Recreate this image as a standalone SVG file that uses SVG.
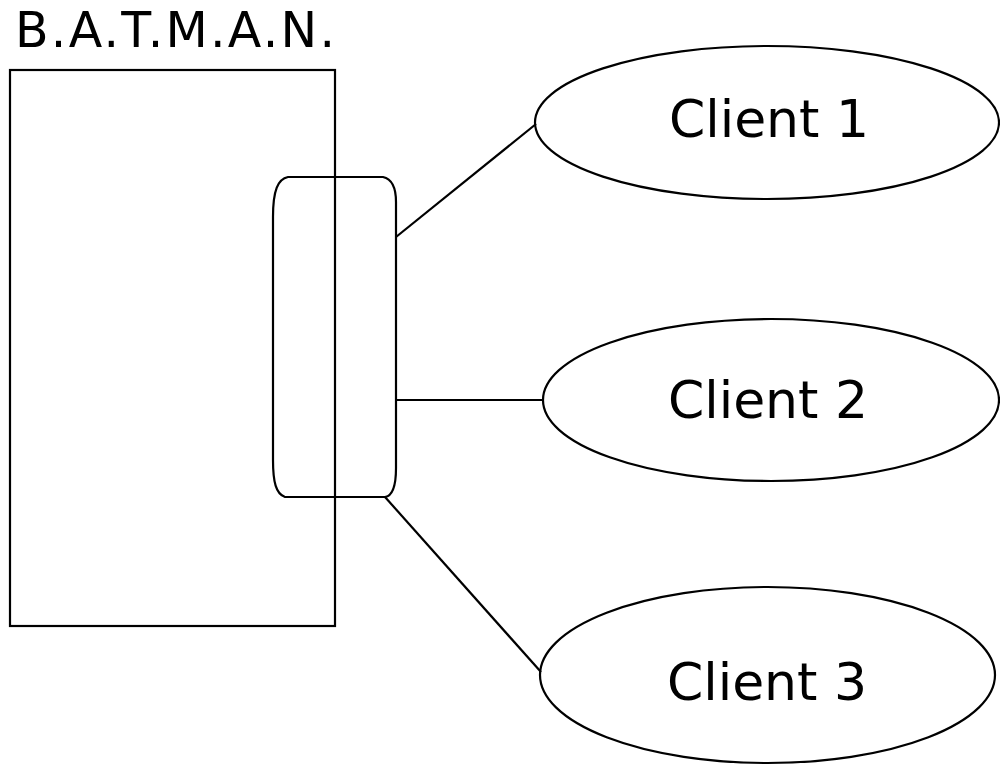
<svg xmlns="http://www.w3.org/2000/svg" width="1000" height="765" viewBox="0 0 1000 765">
  <style>
    .shape { fill: none; stroke: #000; stroke-width: 2.2; }
    .wire { fill: none; stroke: #000; stroke-width: 2.2; }
    .label { font-family: "DejaVu Sans", "Liberation Sans", sans-serif; fill: #000; text-anchor: middle; }
  </style>
  <rect width="1000" height="765" fill="#fff"/>

  <!-- mesh node -->
  <g id="batman">
    <text class="label" x="15" y="47" font-size="49" style="text-anchor:start" textLength="320" lengthAdjust="spacing">B.A.T.M.A.N.</text>
    <rect class="shape" x="10" y="70" width="325" height="556"/>
  </g>

  <!-- interface bundle -->
  <g id="interface">
    <path class="shape" d="M288,177 L383,177 C392,179 396,188 396,202 L396,468 C396,488 392,496 385,497 L285,497 C276,494 273,482 273,460 L273,217 C273,190 278,179 288,177 Z"/>
  </g>

  <g id="connectors">
    <line class="wire" x1="396" y1="237" x2="536" y2="124"/>
    <line class="wire" x1="396" y1="400" x2="543" y2="400"/>
    <line class="wire" x1="385" y1="497" x2="541" y2="672"/>
  </g>

  <g id="client1">
    <ellipse class="shape" cx="767" cy="122.5" rx="232" ry="76.5"/>
    <text class="label" x="769" y="137" font-size="52">Client 1</text>
  </g>
  <g id="client2">
    <ellipse class="shape" cx="771" cy="400" rx="228" ry="81"/>
    <text class="label" x="768" y="418" font-size="52">Client 2</text>
  </g>
  <g id="client3">
    <ellipse class="shape" cx="767.5" cy="675" rx="227.5" ry="88"/>
    <text class="label" x="767" y="700" font-size="52">Client 3</text>
  </g>
</svg>
